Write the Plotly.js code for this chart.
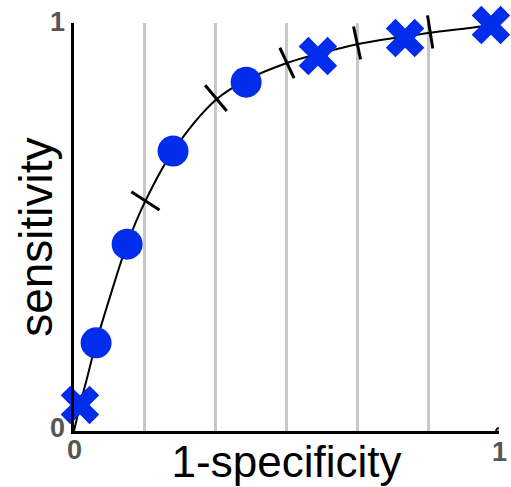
<!DOCTYPE html>
<html>
<head>
<meta charset="utf-8">
<script src="https://cdn.plot.ly/plotly-3.0.1.min.js"></script>
<style>html,body{margin:0;padding:0;background:#fff;}#chart{width:511px;height:487px;}</style>
</head>
<body>
<div id="chart"></div>
<script>
// ROC curve
const curveX = [0, 0.006, 0.014, 0.03, 0.052, 0.085, 0.125, 0.168, 0.233, 0.334, 0.405, 0.501, 0.574, 0.666, 0.779, 0.838, 0.981, 1];
const curveY = [0, 0.027, 0.064, 0.127, 0.216, 0.33, 0.458, 0.564, 0.686, 0.812, 0.86, 0.902, 0.924, 0.948, 0.967, 0.976, 0.995, 1];
// circle points
const circleX = [0.052, 0.125, 0.233, 0.405];
const circleY = [0.216, 0.458, 0.686, 0.855];
// cross points
const crossX = [0.014, 0.574, 0.779, 0.981];
const crossY = [0.064, 0.919, 0.963, 0.995];
// threshold ticks on the curve
const tickX = [0.168, 0.334, 0.501, 0.666, 0.838];
const tickY = [0.564, 0.816, 0.902, 0.951, 0.978];
const tickAngle = [33, 50, 65, 78, 81];
// axis labels
const xTickVals = [0, 1/6, 2/6, 3/6, 4/6, 5/6, 1];
const xTickLabels = ['0', '1'];
const xTickLabelPos = [0, 1];
const yTickLabels = ['0', '1'];
const yTickLabelPos = [0, 1];

const blue = 'rgb(0,45,235)';
const traces = [
  {x: curveX, y: curveY, mode: 'lines', line: {color: '#000', width: 2, shape: 'spline', smoothing: 1}, hoverinfo: 'skip', cliponaxis: false},
  {x: tickX, y: tickY, mode: 'markers', marker: {symbol: 'line-ew', size: 24, angle: tickAngle, line: {color: '#000', width: 3}}, cliponaxis: false},
  {x: circleX, y: circleY, mode: 'markers', marker: {symbol: 'circle', size: 31, color: blue, line: {width: 0}}, cliponaxis: false},
  {x: crossX, y: crossY, mode: 'markers', marker: {symbol: 'x', size: 34, color: blue, line: {width: 0}}, cliponaxis: false}
];

const tickFont = {family: 'Liberation Sans, Arial, sans-serif', size: 27, color: '#555', weight: 'bold'};
const annotations = [
  {text: 'sensitivity', xref: 'paper', yref: 'paper', x: -0.088, y: 0.475, xanchor: 'center', yanchor: 'middle', textangle: -90, showarrow: false,
   font: {family: 'Liberation Sans, Arial, sans-serif', size: 46, color: '#000'}}
];
yTickLabels.forEach((t, i) => annotations.push({text: t, xref: 'x', yref: 'y', x: 0, y: yTickLabelPos[i], xanchor: 'right', yanchor: 'middle',
  xshift: -7, yshift: i === 0 ? 3 : 1, showarrow: false, font: tickFont}));
xTickLabels.forEach((t, i) => annotations.push({text: t, xref: 'x', yref: 'y', x: xTickLabelPos[i], y: 0, xanchor: 'center', yanchor: 'middle',
  xshift: 0, yshift: i === 0 ? -19 : -21, showarrow: false, font: tickFont}));

const layout = {
  width: 511, height: 487,
  margin: {l: 74, r: 12, t: 23, b: 56},
  paper_bgcolor: '#fff', plot_bgcolor: '#fff',
  showlegend: false,
  xaxis: {
    range: [0, 1], tickvals: xTickVals, ticks: '', showticklabels: false,
    showgrid: true, gridcolor: '#c8c8c8', gridwidth: 3,
    showline: true, linecolor: '#000', linewidth: 3, zeroline: false,
    title: {text: '1-specificity', font: {family: 'Liberation Sans, Arial, sans-serif', size: 44, color: '#000'}, standoff: 14}
  },
  yaxis: {
    range: [0, 1], tickvals: yTickLabelPos, ticks: '', showticklabels: false,
    showgrid: true, gridcolor: '#c8c8c8', gridwidth: 2,
    showline: true, linecolor: '#000', linewidth: 3, zeroline: false
  },
  annotations: annotations,
  shapes: [
    {type: 'circle', xref: 'x', yref: 'y', xsizemode: 'pixel', ysizemode: 'pixel', xanchor: 1, yanchor: 0, x0: -3, x1: 3, y0: -3, y1: 3, line: {color: '#000', width: 1.5}, fillcolor: '#999'}
  ]
};
Plotly.newPlot('chart', traces, layout, {displayModeBar: false, staticPlot: true});
</script>
</body>
</html>
